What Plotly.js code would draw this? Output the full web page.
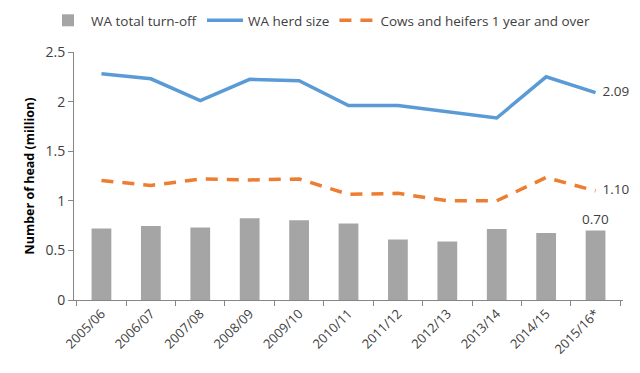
<!DOCTYPE html>
<html>
<head>
<meta charset="utf-8">
<script src="https://cdn.plot.ly/plotly-3.0.1.min.js"></script>
<style>html,body{margin:0;padding:0;background:#fff;}#chart{width:640px;height:373px;}</style>
</head>
<body>
<div id="chart"></div>
<script>
const years = ['2005/06','2006/07','2007/08','2008/09','2009/10','2010/11','2011/12','2012/13','2013/14','2014/15','2015/16*'];
const turnOff = [0.72, 0.745, 0.73, 0.825, 0.805, 0.77, 0.61, 0.59, 0.715, 0.675, 0.70];
const herdSize = [2.28, 2.23, 2.01, 2.225, 2.21, 1.96, 1.96, 1.895, 1.835, 2.25, 2.09];
const cowsHeifers = [1.205, 1.155, 1.22, 1.21, 1.22, 1.065, 1.075, 1.0, 1.0, 1.235, 1.10];
const lastLabels = { turnOff: '0.70', herd: '2.09', cows: '1.10' };
const yTicks = [0, 0.5, 1, 1.5, 2, 2.5];
const yTickText = ['0', '0.5', '1', '1.5', '2', '2.5'];

function labelArr(n, lab) { const a = new Array(n).fill(''); a[n-1] = lab; return a; }

const font = 'Open Sans, DejaVu Sans, sans-serif';

const traces = [
  {
    type: 'bar', name: 'WA total turn-off', x: years, y: turnOff,
    marker: {color: '#A5A5A5'},
    text: labelArr(years.length, lastLabels.turnOff), textposition: 'outside',
    outsidetextfont: {size: 13.5, color: '#404040', family: font},
    textfont: {size: 13.5, color: '#404040', family: font}, cliponaxis: false,
    constraintext: 'none'
  },
  {
    type: 'scatter', mode: 'lines+text', name: 'WA herd size', x: years, y: herdSize,
    line: {color: '#5B9BD5', width: 3.5},
    text: labelArr(years.length, '  ' + lastLabels.herd), textposition: 'middle right',
    textfont: {size: 13.5, color: '#404040', family: font}, cliponaxis: false
  },
  {
    type: 'scatter', mode: 'lines+text', name: 'Cows and heifers 1 year and over', x: years, y: cowsHeifers,
    line: {color: '#ED7D31', width: 3.5, dash: '12px,9px'},
    text: labelArr(years.length, '  ' + lastLabels.cows), textposition: 'middle right',
    textfont: {size: 13.5, color: '#404040', family: font}, cliponaxis: false
  }
];

const layout = {
  width: 640, height: 373,
  margin: {l: 74, r: 17, t: 52, b: 73, autoexpand: false},
  paper_bgcolor: '#fff', plot_bgcolor: '#fff',
  font: {family: font, size: 12, color: '#404040'},
  bargap: 0.6,
  showlegend: true,
  legend: {
    orientation: 'h', x: 0.5, xref: 'container', xanchor: 'center',
    y: 0.945, yref: 'container', yanchor: 'middle',
    font: {size: 13.5, color: '#404040', family: font},
    itemwidth: 36, traceorder: 'normal'
  },
  xaxis: {
    type: 'category', tickangle: -45,
    showline: true, linecolor: '#868686', linewidth: 1,
    ticks: 'outside', tickson: 'boundaries', ticklen: 5, tickcolor: '#868686',
    showgrid: false, zeroline: false,
    tickfont: {size: 13, color: '#404040', family: font}
  },
  yaxis: {
    range: [0, 2.5], tickmode: 'array', tickvals: yTicks, ticktext: yTickText,
    showline: true, linecolor: '#868686', linewidth: 1,
    ticks: 'outside', ticklen: 5, tickcolor: '#868686',
    showgrid: false, zeroline: false,
    tickfont: {size: 14, color: '#404040', family: font},
    title: {text: '<b>Number of head (million)</b>', font: {size: 12.5, color: '#000', family: font}, standoff: 8}
  }
};

Plotly.newPlot('chart', traces, layout, {displayModeBar: false, staticPlot: true});
</script>
</body>
</html>
